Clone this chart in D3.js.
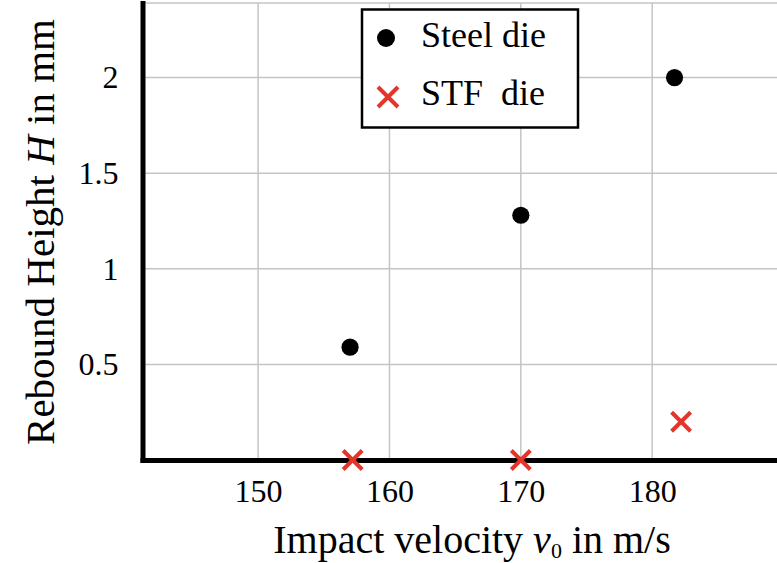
<!DOCTYPE html>
<html>
<head>
<meta charset="utf-8">
<script src="https://cdn.jsdelivr.net/npm/d3@7"></script>
<style>
  body { margin: 0; background: #fff; }
  svg { display: block; font-family: "Liberation Serif", "Times New Roman", serif; }
</style>
</head>
<body>
<div id="chart"></div>
<script>
// values
var steelVelocity = [157, 170, 181.7],
    steelHeight = [0.59, 1.28, 2.0],
    stfVelocity = [157.2, 170, 182.2],
    stfHeight = [0, 0, 0.2],
    xTicks = [150, 160, 170, 180],
    yTicks = [0.5, 1, 1.5, 2],
    seriesNames = ["Steel die", "STF\u00a0\u00a0die"];

var W = 777, H = 563,
    plotLeft = 142.5, plotRight = 777, plotTop = 3, plotBottom = 460;

var red = "#e5352b",
    serif = "'Liberation Serif', 'Times New Roman', serif";

var x = d3.scaleLinear().domain([141.2, 189.5]).range([plotLeft, plotRight]);
var y = d3.scaleLinear().domain([0, 2.39]).range([plotBottom, plotTop]);

var svg = d3.select("#chart").append("svg")
  .attr("width", W)
  .attr("height", H);

// grid
svg.append("g")
  .selectAll("line")
  .data(xTicks)
  .enter().append("line")
  .attr("x1", function(d) { return x(d); })
  .attr("x2", function(d) { return x(d); })
  .attr("y1", plotTop)
  .attr("y2", plotBottom)
  .attr("stroke", "#c4c4c4")
  .attr("stroke-width", 1.5);

svg.append("g")
  .selectAll("line")
  .data(yTicks.concat([y.domain()[1]]))
  .enter().append("line")
  .attr("x1", plotLeft)
  .attr("x2", plotRight)
  .attr("y1", function(d) { return y(d); })
  .attr("y2", function(d) { return y(d); })
  .attr("stroke", "#c4c4c4")
  .attr("stroke-width", 1.5);

// axes
var xAxis = svg.append("g")
  .attr("transform", "translate(0," + plotBottom + ")")
  .call(d3.axisBottom(x).tickValues(xTicks).tickSize(0).tickSizeOuter(0).tickPadding(19).tickFormat(d3.format("d")));

var yAxis = svg.append("g")
  .attr("transform", "translate(" + plotLeft + ",0)")
  .call(d3.axisLeft(y).tickValues(yTicks).tickSize(0).tickSizeOuter(0).tickPadding(24).tickFormat(function(d) { return d; }));

[xAxis, yAxis].forEach(function(a) {
  a.attr("font-family", serif).attr("font-size", 32);
  a.select(".domain")
    .attr("stroke", "#000")
    .attr("stroke-width", 5)
    .attr("stroke-linecap", "square");
  a.selectAll("text")
    .attr("fill", "#000");
});

// steel die points
svg.append("g")
  .selectAll("circle")
  .data(steelVelocity)
  .enter().append("circle")
  .attr("cx", function(d) { return x(d); })
  .attr("cy", function(d, i) { return y(steelHeight[i]); })
  .attr("r", 8.6)
  .attr("fill", "#000");

// stf die points
function cross(sel, s) {
  sel.append("path")
    .attr("d", "M" + (-s) + "," + (-s) + "L" + s + "," + s + "M" + (-s) + "," + s + "L" + s + "," + (-s))
    .attr("stroke", red)
    .attr("stroke-width", 4)
    .attr("fill", "none");
}

svg.append("g")
  .selectAll("g")
  .data(stfVelocity)
  .enter().append("g")
  .attr("transform", function(d, i) { return "translate(" + x(d) + "," + y(stfHeight[i]) + ")"; })
  .call(cross, 9.5);

// legend
var lg = svg.append("g");
lg.append("rect")
  .attr("x", 362).attr("y", 9.5)
  .attr("width", 216).attr("height", 118)
  .attr("fill", "#fff")
  .attr("stroke", "#000")
  .attr("stroke-width", 2.5);

lg.append("circle")
  .attr("cx", 386).attr("cy", 38)
  .attr("r", 9)
  .attr("fill", "#000");

lg.append("g")
  .attr("transform", "translate(388,97)")
  .call(cross, 10);

lg.selectAll("text")
  .data(seriesNames)
  .enter().append("text")
  .attr("x", 421)
  .attr("y", function(d, i) { return 47 + i * 58; })
  .attr("font-size", 36)
  .text(function(d) { return d; });

// axis titles
var xt = svg.append("text")
  .attr("x", 472)
  .attr("y", 553)
  .attr("text-anchor", "middle")
  .attr("font-size", 40);
xt.append("tspan").text("Impact velocity ");
xt.append("tspan").attr("font-style", "italic").text("v");
xt.append("tspan").attr("font-size", 22).attr("dy", 5).text("0");
xt.append("tspan").attr("dy", -5).text(" in m/s");

var yt = svg.append("text")
  .attr("transform", "translate(54,232) rotate(-90)")
  .attr("text-anchor", "middle")
  .attr("font-size", 41);
yt.append("tspan").text("Rebound Height ");
yt.append("tspan").attr("font-style", "italic").text("H");
yt.append("tspan").text(" in mm");
</script>
</body>
</html>
